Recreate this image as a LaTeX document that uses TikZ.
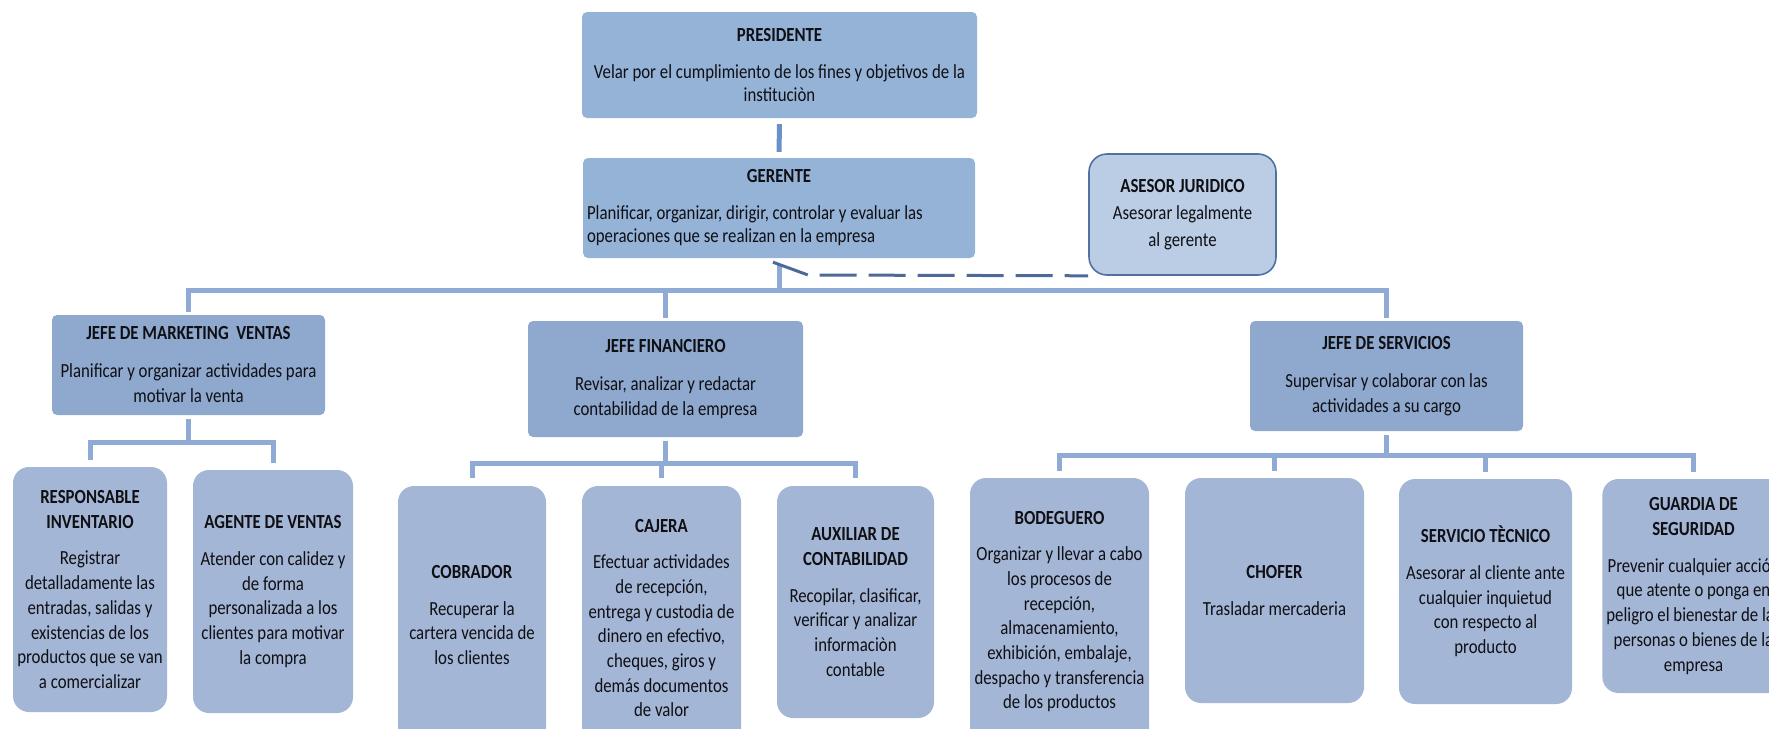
\documentclass[tikz,border=0pt]{standalone}
\usepackage{fontspec}
\setmainfont{Carlito}[FakeStretch=0.84]
\usetikzlibrary{calc}

\definecolor{topfill}{RGB}{149,179,215}
\definecolor{jefefill}{RGB}{142,168,206}
\definecolor{subfill}{RGB}{164,182,214}
\definecolor{asefill}{RGB}{186,205,229}
\definecolor{aseline}{RGB}{82,112,160}
\definecolor{connc}{RGB}{143,170,212}
\definecolor{linkc}{RGB}{105,145,200}
\definecolor{dashc}{RGB}{76,106,152}
\definecolor{txtc}{RGB}{15,15,20}

\tikzset{
  box/.style={rounded corners=5pt, inner sep=4pt, align=center, text=txtc,
              font=\fontsize{20}{24.7}\selectfont},
  topbox/.style={box, fill=topfill, font=\fontsize{20}{23}\selectfont},
  jefebox/.style={box, fill=jefefill, font=\fontsize{20}{25}\selectfont},
  subbox/.style={box, fill=subfill, rounded corners=16pt},
  asebox/.style={box, fill=asefill, draw=aseline, line width=1.6pt,
                 rounded corners=18pt, font=\fontsize{20}{27}\selectfont},
  conn/.style={draw=connc, line width=5pt},
  link/.style={draw=linkc, line width=5pt},
  adv/.style={draw=dashc, line width=3pt, dash pattern=on 37pt off 12pt},
}

\begin{document}
\begin{tikzpicture}[x=1pt, y=-1pt]
\useasboundingbox (0,0) rectangle (1769,728);
\clip (0,0) rectangle (1769,728);

% ---- top management ----
\node[topbox, minimum width=395pt, minimum height=106pt] (pre) at (779.5,65)
  {\textbf{PRESIDENTE}\\[14pt]Velar por el cumplimiento de los fines y objetivos de la\\instituciòn};

\node[topbox, text width=384pt, align=flush left, minimum height=100pt] (ger) at (779,208)
  {\makebox[384pt]{\textbf{GERENTE}}\\[14pt]Planificar, organizar, dirigir, controlar y evaluar las\\operaciones que se realizan en la empresa};

\node[asebox, minimum width=187pt, minimum height=121pt] (ase) at (1182.5,214.5)
  {\textbf{ASESOR JURIDICO}\\Asesorar legalmente\\al gerente};

% ---- department heads ----
\node[jefebox, minimum width=273pt, minimum height=100pt] (mkt) at (188.5,365)
  {\textbf{JEFE DE MARKETING\ \ VENTAS}\\[13pt]Planificar y organizar actividades para\\motivar la venta};

\node[jefebox, minimum width=275pt, minimum height=116pt] (fin) at (665.5,379)
  {\textbf{JEFE FINANCIERO}\\[13pt]Revisar, analizar y redactar\\contabilidad de la empresa};

\node[jefebox, minimum width=273pt, minimum height=110pt] (srv) at (1386.5,376)
  {\textbf{JEFE DE SERVICIOS}\\[13pt]Supervisar y colaborar con las\\actividades a su cargo};

% ---- staff under marketing ----
\node[subbox, minimum width=154pt, minimum height=245pt] (inv) at (90,589.5)
  {\textbf{RESPONSABLE}\\\textbf{INVENTARIO}\\[12pt]Registrar\\detalladamente las\\entradas, salidas y\\existencias de los\\productos que se van\\a comercializar};

\node[subbox, minimum width=160pt, minimum height=243pt] (age) at (273,591.5)
  {\textbf{AGENTE DE VENTAS}\\[12pt]Atender con calidez y\\de forma\\personalizada a los\\clientes para motivar\\la compra};

% ---- staff under finance ----
\node[subbox, minimum width=148pt, minimum height=258pt] (cob) at (472,615)
  {\textbf{COBRADOR}\\[12pt]Recuperar la\\cartera vencida de\\los clientes};

\node[subbox, minimum width=159pt, minimum height=264pt] (caj) at (661.5,618)
  {\textbf{CAJERA}\\[12pt]Efectuar actividades\\de recepción,\\entrega y custodia de\\dinero en efectivo,\\cheques, giros y\\demás documentos\\de valor};

\node[subbox, minimum width=157pt, minimum height=232pt] (aux) at (855.5,602)
  {\textbf{AUXILIAR DE}\\\textbf{CONTABILIDAD}\\[12pt]Recopilar, clasificar,\\verificar y analizar\\informaciòn\\contable};

% ---- staff under services ----
\node[subbox, minimum width=179pt, minimum height=267pt] (bod) at (1059.5,611.5)
  {\textbf{BODEGUERO}\\[12pt]Organizar y llevar a cabo\\los procesos de\\recepción,\\almacenamiento,\\exhibición, embalaje,\\despacho y transferencia\\de los productos};

\node[subbox, minimum width=179pt, minimum height=225pt] (cho) at (1274.5,590.5)
  {\textbf{CHOFER}\\[12pt]Trasladar mercaderia};

\node[subbox, minimum width=173pt, minimum height=225pt] (tec) at (1485.5,591.5)
  {\textbf{SERVICIO TÈCNICO}\\[12pt]Asesorar al cliente ante\\cualquier inquietud\\con respecto al\\producto};

\node[subbox, minimum width=173pt, minimum height=214pt] (gua) at (1693.5,586)
  {\textbf{GUARDIA DE}\\\textbf{SEGURIDAD}\\[12pt]Prevenir cualquier acción\\que atente o ponga en\\peligro el bienestar de las\\personas o bienes de la\\empresa};

% ---- junction points of the connectors ----
\coordinate (gbar) at (779,290);
\coordinate (mbar) at (188.5,442);
\coordinate (fbar) at (665.5,463);
\coordinate (sbar) at (1386.5,455);
\coordinate (bend) at (808,275);

% ---- connectors ----
\draw[link, shorten <=6pt, shorten >=6pt] (pre.south) -- (ger.north);
\draw[conn, shorten <=7pt] (ger.south) -- (gbar);
\draw[conn, shorten <=3pt, shorten >=3pt] (mkt.north) |- (gbar) -| (srv.north);
\draw[conn, shorten >=3pt] (gbar -| fin.north) -- (fin.north);

\draw[conn, shorten <=4pt] (mkt.south) -- (mbar);
\draw[conn, shorten <=7pt, shorten >=7pt] (inv.north) |- (mbar) -| (age.north);

\draw[conn, shorten <=4pt] (fin.south) -- (fbar);
\draw[conn, shorten <=8pt, shorten >=8pt] (cob.north) |- (fbar) -| (aux.north);
\draw[conn, shorten >=8pt] (fbar -| caj.north) -- (caj.north);

\draw[conn, shorten <=4pt] (srv.south) -- (sbar);
\draw[conn, shorten <=7pt, shorten >=7pt] (bod.north) |- (sbar) -| (gua.north);
\draw[conn, shorten >=7pt] (sbar -| cho.north) -- (cho.north);
\draw[conn, shorten >=7pt] (sbar -| tec.north) -- (tec.north);

% advisory link (dashed) from the manager to the legal advisor
\draw[adv] (ger.south) ++(-6,4) -- (bend) -- (ase.south west);
\end{tikzpicture}
\end{document}
